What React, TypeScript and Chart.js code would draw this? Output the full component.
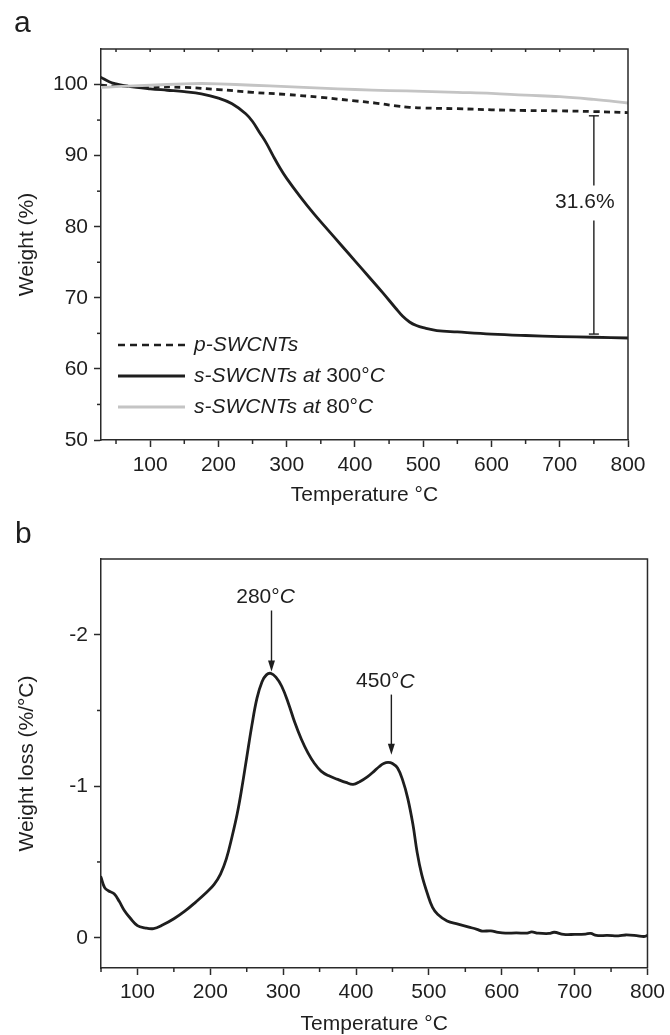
import React, { useEffect, useRef } from 'react';
import { Chart, registerables } from 'chart.js';
Chart.register(...registerables);

const FONT = '"Liberation Sans", Arial, Helvetica, sans-serif';
const FS = 21;
const INK = '#1e1e1e';
const AXIS = '#2a2a2a';

// ---------- Panel a: TGA ----------
const tempP = [28, 50, 100, 150, 200, 250, 300, 350, 400, 430, 460, 480, 500, 550, 600, 650, 700, 750, 800];
const weightP = [99.9, 99.8, 99.7, 99.6, 99.3, 98.9, 98.6, 98.2, 97.7, 97.4, 97.0, 96.8, 96.7, 96.6, 96.45, 96.35, 96.3, 96.2, 96.05];

const tempS300 = [28, 40, 50, 60, 80, 100, 125, 150, 175, 200, 220, 240, 250, 260, 270, 280, 290, 300, 320, 340, 360, 380, 400, 420, 440, 460, 470, 480, 490, 500, 520, 550, 600, 650, 700, 750, 800];
const weightS300 = [101.0, 100.4, 100.1, 99.9, 99.6, 99.4, 99.2, 99.0, 98.7, 98.1, 97.3, 95.9, 94.8, 93.3, 91.8, 90.0, 88.3, 86.8, 84.2, 81.8, 79.6, 77.4, 75.2, 73.0, 70.8, 68.5, 67.4, 66.6, 66.1, 65.8, 65.4, 65.2, 64.9, 64.7, 64.55, 64.45, 64.35];

const tempS80 = [28, 50, 100, 150, 175, 200, 250, 300, 350, 400, 450, 500, 550, 600, 650, 700, 750, 800];
const weightS80 = [99.6, 99.7, 99.9, 100.1, 100.15, 100.1, 99.9, 99.7, 99.5, 99.3, 99.15, 99.05, 98.9, 98.75, 98.5, 98.3, 97.9, 97.4];

const legendA = ['p-SWCNTs', 's-SWCNTs at 300°C', 's-SWCNTs at 80°C'];
const xTicksA = [100, 200, 300, 400, 500, 600, 700, 800];
const xMinorA = [50, 150, 250, 350, 450, 550, 650, 750];
const yTicksA = [50, 60, 70, 80, 90, 100];
const yMinorA = [55, 65, 75, 85, 95];
const bracketT = 750;
const bracketTop = 95.6;
const bracketBottom = 64.9;
const bracketLabel = '31.6%';
const bracketLabelValue = 83.4;

// ---------- Panel b: DTG ----------
const tempD = [50, 55, 60, 68, 75, 82, 90, 100, 110, 122, 135, 150, 165, 180, 195, 205, 214, 222, 230, 237, 243, 250, 257, 264, 271, 277, 283, 290, 298, 307, 316, 325, 334, 343, 352, 362, 375, 386, 396, 405, 416, 425, 432, 438, 444, 450, 457, 464, 471, 478, 484, 490, 498, 505, 512, 525, 540, 555, 566, 573, 585, 595, 605, 620, 635, 641, 650, 665, 672, 685, 700, 715, 722, 730, 745, 760, 770, 785, 795, 800];
const lossD = [-0.40, -0.33, -0.31, -0.29, -0.24, -0.18, -0.13, -0.08, -0.065, -0.06, -0.085, -0.125, -0.175, -0.235, -0.30, -0.35, -0.42, -0.52, -0.67, -0.82, -0.98, -1.19, -1.40, -1.58, -1.69, -1.735, -1.745, -1.72, -1.66, -1.55, -1.42, -1.31, -1.22, -1.15, -1.10, -1.07, -1.045, -1.025, -1.012, -1.03, -1.064, -1.10, -1.13, -1.15, -1.157, -1.15, -1.12, -1.04, -0.92, -0.75, -0.56, -0.42, -0.29, -0.20, -0.155, -0.11, -0.09, -0.07, -0.055, -0.044, -0.045, -0.035, -0.03, -0.032, -0.03, -0.038, -0.03, -0.028, -0.036, -0.022, -0.022, -0.024, -0.028, -0.015, -0.015, -0.012, -0.018, -0.014, -0.008, -0.015];

const xTicksB = [100, 200, 300, 400, 500, 600, 700, 800];
const xMinorB = [50, 150, 250, 350, 450, 550, 650, 750];
const yTicksB = [-2, -1, 0];
const yMinorB = [-1.5, -0.5];
const peakLabels = ['280°', '450°'];
const peakT = [284, 448.5];
const peakTextValue = [-2.247, -1.69];
const peakArrowStart = [-2.16, -1.605];
const peakArrowTip = [-1.757, -1.207];

type Part = [string, boolean];

function fontStr(italic: boolean, size = FS) {
  return `${italic ? 'italic ' : ''}${size}px ${FONT}`;
}

function drawRich(ctx: CanvasRenderingContext2D, parts: Part[], x: number, y: number, align: 'left' | 'center') {
  const widths = parts.map(([t, it]) => {
    ctx.font = fontStr(it);
    return ctx.measureText(t).width;
  });
  const total = widths.reduce((a, b) => a + b, 0);
  let cx = align === 'center' ? x - total / 2 : x;
  ctx.textAlign = 'left';
  ctx.textBaseline = 'middle';
  parts.forEach(([t, it], i) => {
    ctx.font = fontStr(it);
    ctx.fillText(t, cx, y);
    cx += widths[i];
  });
}

function line(ctx: CanvasRenderingContext2D, x1: number, y1: number, x2: number, y2: number) {
  ctx.beginPath();
  ctx.moveTo(x1, y1);
  ctx.lineTo(x2, y2);
  ctx.stroke();
}

function frameAndMinor(chart: any, xMinor: number[], yMinor: number[], topTicks: boolean) {
  const { ctx, chartArea: a, scales } = chart;
  const x = scales.x, y = scales.y;
  ctx.save();
  ctx.strokeStyle = AXIS;
  ctx.lineWidth = 1.5;
  ctx.beginPath();
  ctx.moveTo(a.left, a.top);
  ctx.lineTo(a.right, a.top);
  ctx.lineTo(a.right, a.bottom);
  ctx.stroke();
  for (const v of xMinor) {
    const px = x.getPixelForValue(v);
    line(ctx, px, a.bottom, px, a.bottom + 4);
  }
  for (const v of yMinor) {
    const py = y.getPixelForValue(v);
    line(ctx, a.left - 4, py, a.left, py);
  }
  if (topTicks) {
    for (const v of [...xMinor, ...xTicksA]) {
      const px = x.getPixelForValue(v);
      if (px > a.left + 1 && px < a.right - 1) line(ctx, px, a.top, px, a.top + 3);
    }
  }
  ctx.restore();
}

const pluginA = {
  id: 'pluginA',
  afterDraw(chart: any) {
    const { ctx, chartArea: a, scales } = chart;
    const x = scales.x, y = scales.y;
    frameAndMinor(chart, xMinorA, yMinorA, true);
    ctx.save();
    ctx.fillStyle = INK;
    ctx.font = `30px ${FONT}`;
    ctx.textAlign = 'left';
    ctx.textBaseline = 'alphabetic';
    ctx.fillText('a', 14, 32);
    const rows = [a.bottom - 95, a.bottom - 64, a.bottom - 33];
    const styles = [
      { color: INK, dash: [7, 5], width: 2.6 },
      { color: INK, dash: [], width: 2.8 },
      { color: '#c4c4c4', dash: [], width: 2.8 },
    ];
    const texts: Part[][] = [
      [[legendA[0], true]],
      [['s-SWCNTs at ', true], ['300°', false], ['C', true]],
      [['s-SWCNTs at ', true], ['80°', false], ['C', true]],
    ];
    rows.forEach((ry, i) => {
      ctx.strokeStyle = styles[i].color;
      ctx.lineWidth = styles[i].width;
      ctx.setLineDash(styles[i].dash);
      line(ctx, a.left + 17, ry, a.left + 84, ry);
      ctx.setLineDash([]);
      ctx.fillStyle = INK;
      drawRich(ctx, texts[i], a.left + 93, ry, 'left');
    });
    const bx = x.getPixelForValue(bracketT);
    const bt = y.getPixelForValue(bracketTop);
    const bb = y.getPixelForValue(bracketBottom);
    const ly = y.getPixelForValue(bracketLabelValue);
    ctx.strokeStyle = INK;
    ctx.lineWidth = 1.4;
    line(ctx, bx, bt, bx, ly - 17);
    line(ctx, bx, ly + 18, bx, bb);
    line(ctx, bx - 5, bt, bx + 5, bt);
    line(ctx, bx - 5, bb, bx + 5, bb);
    ctx.fillStyle = INK;
    drawRich(ctx, [[bracketLabel, false]], bx - 9, ly, 'center');
    ctx.restore();
  },
};

const pluginB = {
  id: 'pluginB',
  afterDraw(chart: any) {
    const { ctx, scales } = chart;
    const x = scales.x, y = scales.y;
    frameAndMinor(chart, xMinorB, yMinorB, false);
    ctx.save();
    ctx.fillStyle = INK;
    ctx.font = `30px ${FONT}`;
    ctx.textAlign = 'left';
    ctx.textBaseline = 'alphabetic';
    ctx.fillText('b', 15, 23);
    ctx.strokeStyle = INK;
    ctx.lineWidth = 1.4;
    peakT.forEach((t, i) => {
      const px = x.getPixelForValue(t);
      const ty = y.getPixelForValue(peakTextValue[i]);
      ctx.fillStyle = INK;
      drawRich(ctx, [[peakLabels[i], false], ['C', true]], px - 6, ty, 'center');
      const y1 = y.getPixelForValue(peakArrowStart[i]);
      const y2 = y.getPixelForValue(peakArrowTip[i]);
      line(ctx, px, y1, px, y2 - 9);
      ctx.beginPath();
      ctx.moveTo(px - 3.5, y2 - 11);
      ctx.lineTo(px + 3.5, y2 - 11);
      ctx.lineTo(px, y2);
      ctx.closePath();
      ctx.fill();
    });
    ctx.restore();
  },
};

function axisCommon() {
  return {
    type: 'linear' as const,
    grid: { display: true, drawOnChartArea: false, drawTicks: true, tickLength: 7, tickWidth: 1.5, tickColor: AXIS },
    border: { display: true, color: AXIS, width: 1.5 },
  };
}

function makeConfig(panel: 'a' | 'b'): any {
  const isA = panel === 'a';
  const common = { pointRadius: 0, tension: 0.4, borderJoinStyle: 'round', borderCapStyle: 'round' };
  const datasets = isA
    ? [
        { label: legendA[2], data: tempS80.map((t, i) => ({ x: t, y: weightS80[i] })), borderColor: '#c4c4c4', borderWidth: 2.8, ...common },
        { label: legendA[0], data: tempP.map((t, i) => ({ x: t, y: weightP[i] })), borderColor: INK, borderWidth: 2.8, borderDash: [6, 4.5], ...common, borderCapStyle: 'butt' },
        { label: legendA[1], data: tempS300.map((t, i) => ({ x: t, y: weightS300[i] })), borderColor: INK, borderWidth: 2.8, ...common },
      ]
    : [
        { label: 'DTG', data: tempD.map((t, i) => ({ x: t, y: lossD[i] })), borderColor: INK, borderWidth: 2.8, ...common },
      ];
  const tickFont = { family: FONT, size: FS };
  return {
    type: 'line',
    data: { datasets },
    plugins: [isA ? pluginA : pluginB],
    options: {
      responsive: false,
      animation: false,
      events: [],
      layout: { padding: isA ? { left: 0, right: 42, top: 49, bottom: 0 } : { left: 0, right: 18, top: 39, bottom: 0 } },
      plugins: { legend: { display: false }, tooltip: { enabled: false } },
      scales: {
        x: {
          ...axisCommon(),
          min: isA ? 28 : 50,
          max: 800,
          afterBuildTicks: (s: any) => { s.ticks = (isA ? xTicksA : xTicksB).map((v) => ({ value: v })); },
          afterFit: (s: any) => { s.height = isA ? 80 : 67; },
          ticks: { font: tickFont, color: INK, padding: isA ? 6 : 5, autoSkip: false, maxRotation: 0, callback: (v: any) => String(v) },
          title: {
            display: true, text: 'Temperature °C', color: INK,
            font: { family: FONT, size: FS, lineHeight: isA ? 1.2 : 1 },
            padding: isA ? { top: 0, bottom: 12 } : { top: 0, bottom: 0 },
          },
        },
        y: {
          ...axisCommon(),
          reverse: !isA,
          min: isA ? 50 : -2.5,
          max: isA ? 105 : 0.2,
          afterBuildTicks: (s: any) => { s.ticks = (isA ? yTicksA : yTicksB).map((v) => ({ value: v })); },
          afterFit: (s: any) => { s.width = 101; },
          ticks: { font: tickFont, color: INK, padding: 6, callback: (v: any) => String(v) },
          title: {
            display: true, text: isA ? 'Weight (%)' : 'Weight loss (%/°C)', color: INK,
            font: { family: FONT, size: FS }, padding: { top: 15, bottom: 0 },
          },
        },
      },
    },
  };
}

export default function App() {
  const refA = useRef<HTMLCanvasElement>(null);
  const refB = useRef<HTMLCanvasElement>(null);
  useEffect(() => {
    const ca = new Chart(refA.current as HTMLCanvasElement, makeConfig('a'));
    const cb = new Chart(refB.current as HTMLCanvasElement, makeConfig('b'));
    return () => { ca.destroy(); cb.destroy(); };
  }, []);
  return (
    <div style={{ position: 'absolute', left: 0, top: 0, width: 670, height: 1035, background: '#fff' }}>
      <canvas ref={refA} width={670} height={520} style={{ position: 'absolute', left: 0, top: 0, width: 670, height: 520, display: 'block' }} />
      <canvas ref={refB} width={670} height={515} style={{ position: 'absolute', left: 0, top: 520, width: 670, height: 515, display: 'block' }} />
    </div>
  );
}
